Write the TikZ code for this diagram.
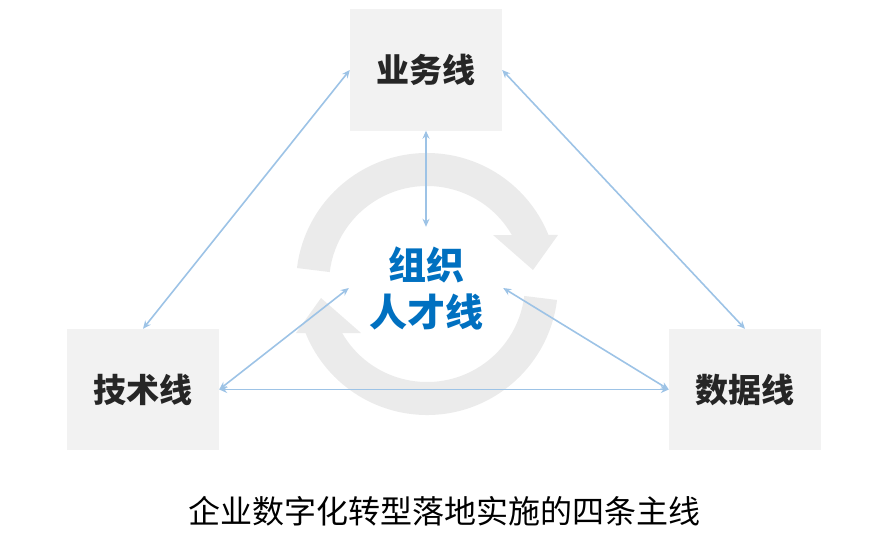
\documentclass[tikz,border=0pt]{standalone}
\usepackage{fontspec}
\newfontfamily\cjk{Noto Sans CJK SC}
\usetikzlibrary{arrows.meta}
\definecolor{boxgray}{HTML}{F2F2F2}
\definecolor{ringgray}{HTML}{EBEBEB}
\definecolor{linkblue}{HTML}{9DC3E6}
\definecolor{orgblue}{HTML}{0070C0}
\definecolor{labeldark}{HTML}{262626}
\tikzset{
  linebox/.style={fill=boxgray, draw=none, minimum width=152pt, minimum height=121pt, inner sep=0pt,
    font=\cjk\bfseries\fontsize{33}{40}\selectfont, text=labeldark},
  orgbox/.style={draw=none, minimum width=154pt, minimum height=122pt, inner sep=0pt, align=center,
    font=\cjk\bfseries\fontsize{38}{47}\selectfont, text=orgblue},
  link/.style={draw=linkblue, line width=1.6pt, {Stealth[length=8pt,width=7pt]}-{Stealth[length=8pt,width=7pt]}},
  ring/.style={fill=ringgray, draw=none},
  caption/.style={font=\cjk\fontsize{32}{38}\selectfont, text=black, inner sep=0pt}
}
\begin{document}
\begin{tikzpicture}[x=1pt,y=-1pt]
\useasboundingbox (0,0) rectangle (890,543);
% circular arrows
\fill[ring] ([shift={(427,284)}]187:131) arc[start angle=187, end angle=338, radius=131]
  -- (558,235) -- (533,270) -- (493,235) -- ([shift={(427,284)}]330:98)
  arc[start angle=330, end angle=187, radius=98] -- cycle;
\fill[ring] ([shift={(427,284)}]7:131) arc[start angle=7, end angle=158, radius=131]
  -- (296,333) -- (321,298) -- (361,333) -- ([shift={(427,284)}]150:98)
  arc[start angle=150, end angle=7, radius=98] -- cycle;
% boxes
\node[linebox] (biz) at (426,70) {业务线};
\node[linebox] (tech) at (143,389.5) {技术线};
\node[linebox] (data) at (745,389.5) {数据线};
\node[orgbox] (org) at (426,288) {组织\\人才线};
% connectors
\draw[link] (biz.west) -- (tech.north);
\draw[link] (biz.east) -- (data.north);
\draw[link] (biz.south) -- (org.north);
\draw[link] (tech.east) -- (org.west);
\draw[link] (data.west) -- (org.east);
\draw[link] (tech.east) -- (data.west);
% caption
\node[caption] (cap) at (444,511) {企业数字化转型落地实施的四条主线};
\end{tikzpicture}
\end{document}
